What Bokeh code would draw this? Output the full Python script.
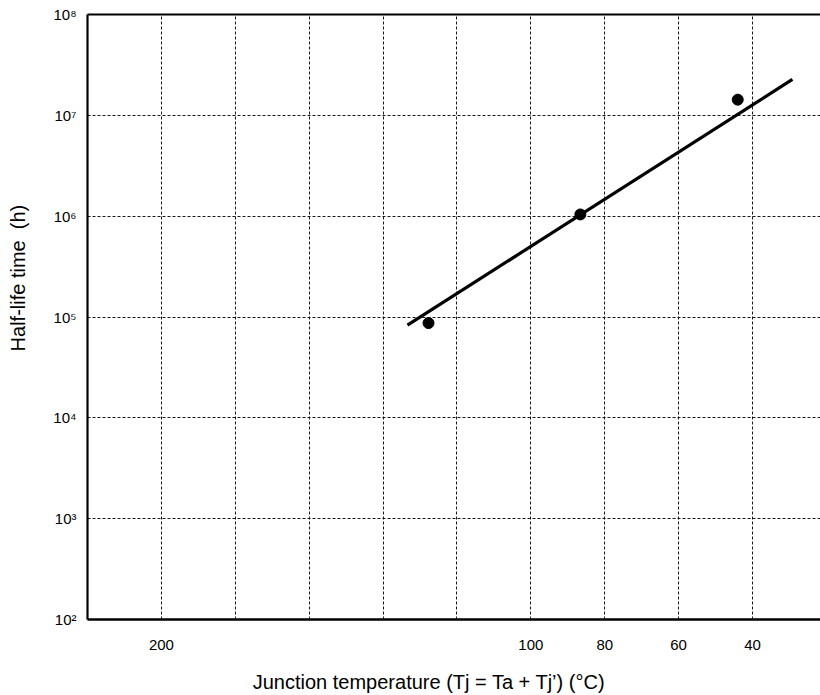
from bokeh.plotting import figure
from bokeh.models import Range1d, FixedTicker, LinearAxis, LogAxis
from bokeh.embed import file_html
from bokeh.resources import INLINE

# Data
temp_points = [127.7, 86.6, 44.0]          # junction temperature (°C)
life_points = [8.7e4, 1.04e6, 1.43e7]       # half-life time (h)
temp_fit = [133.4, 29.2]                    # fitted line ends (°C)
life_fit = [8.3e4, 2.27e7]                  # fitted line ends (h)

x_grid_ticks = [200, 180, 160, 140, 120, 100, 80, 60, 40]
x_label_ticks = [200, 100, 80, 60, 40]
y_ticks = [1e2, 1e3, 1e4, 1e5, 1e6, 1e7, 1e8]
y_tick_labels = ["10\u00b2", "10\u00b3", "10\u2074", "10\u2075", "10\u2076", "10\u2077", "10\u2078"]

FONT = "Liberation Sans"
NB = "\u00a0"

p = figure(width=820, height=695, output_backend="svg", toolbar_location=None,
           y_axis_type="log", x_range=Range1d(220, 21.6), y_range=Range1d(1e2, 1e8),
           min_border_left=87, min_border_right=0, min_border_top=14, min_border_bottom=75,
           x_axis_location=None, y_axis_location=None)
p.outline_line_color = None
p.background_fill_color = "white"
p.border_fill_color = "white"

yax = LogAxis(ticker=FixedTicker(ticks=y_ticks))
yax.major_label_overrides = {int(t): lab for t, lab in zip(y_ticks, y_tick_labels)}
yax.major_tick_line_color = None
yax.minor_tick_line_color = None
yax.axis_line_width = 2.2
yax.axis_line_color = "black"
yax.major_label_standoff = 5
yax.major_label_text_font = FONT
yax.major_label_text_font_size = "15px"
yax.major_label_text_color = "black"
yax.axis_label = NB * 14 + "Half-life time" + NB + " (h)"
yax.axis_label_text_font = FONT
yax.axis_label_text_font_style = "normal"
yax.axis_label_text_font_size = "20px"
yax.axis_label_text_color = "black"
yax.axis_label_standoff = 21
p.add_layout(yax, "left")

xax = LinearAxis(ticker=FixedTicker(ticks=x_label_ticks))
xax.major_tick_line_color = None
xax.minor_tick_line_color = None
xax.axis_line_width = 2.5
xax.axis_line_color = "black"
xax.major_label_standoff = 14
xax.major_label_text_font = FONT
xax.major_label_text_font_size = "15px"
xax.major_label_text_color = "black"
xax.axis_label = "Junction temperature (Tj = Ta + Tj\u2019) (\u00b0C)" + NB * 9
xax.axis_label_text_font = FONT
xax.axis_label_text_font_style = "normal"
xax.axis_label_text_font_size = "20px"
xax.axis_label_text_color = "black"
xax.axis_label_standoff = 18
p.add_layout(xax, "below")

top = LinearAxis(ticker=FixedTicker(ticks=[]))
top.major_tick_line_color = None
top.minor_tick_line_color = None
top.major_label_text_font_size = "0px"
top.axis_line_width = 2.2
top.axis_line_color = "black"
p.add_layout(top, "above")

# grids
p.xgrid.ticker = FixedTicker(ticks=x_grid_ticks)
p.ygrid.ticker = FixedTicker(ticks=y_ticks)
for g in (p.xgrid, p.ygrid):
    g.grid_line_color = "black"
    g.grid_line_width = 1
    g.grid_line_dash = "3 2"
    g.grid_line_alpha = 0.9

# fit line and points
p.line(temp_fit, life_fit, line_color="black", line_width=3.2)
p.scatter(temp_points, life_points, size=11, fill_color="black", line_color="black")

open("out.html", "w").write(file_html(p, INLINE))
